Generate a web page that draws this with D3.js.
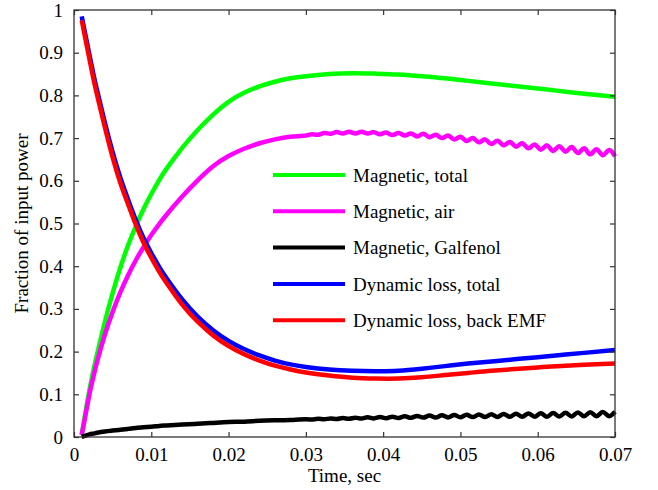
<!DOCTYPE html>
<html><head><meta charset="utf-8">
<script src="https://cdn.jsdelivr.net/npm/d3@7"></script>
<style>body{margin:0;background:#fff}svg{display:block}text{font-family:"Liberation Serif","Times New Roman","DejaVu Serif",serif !important;fill:#000}</style>
</head><body><svg id="c" width="658" height="490"></svg>
<script>
// time in ms
const tEarly = [1.0,1.5,2.0,2.5,3.0,4.0,5.0,6.0,7.0,8.0,9.0,10.0,11.0,12.0,14.0,16.0,18.0,20.0,22.0,24.0,26.0,28.0];
const tLate = [30,33,36,39,42,45,48,51,54,57,60,63,66,70];
const tOsc = [30.0,30.8,31.6,32.4,33.2,34.0,34.8,35.6,36.4,37.2,38.0,38.8,39.6,40.4,41.2,42.0,42.8,43.6,44.4,45.2,46.0,46.8,47.6,48.4,49.2,50.0,50.8,51.6,52.4,53.2,54.0,54.8,55.6,56.4,57.2,58.0,58.8,59.6,60.4,61.2,62.0,62.8,63.6,64.4,65.2,66.0,66.8,67.6,68.4,69.2,70.0];

const magTotalEarly = [0.005,0.06,0.11,0.155,0.195,0.27,0.337,0.397,0.449,0.494,0.534,0.569,0.601,0.629,0.677,0.719,0.755,0.785,0.806,0.821,0.832,0.840];
const magTotalLate = [0.845,0.85,0.852,0.851,0.849,0.845,0.840,0.834,0.828,0.822,0.816,0.81,0.804,0.797];

const magAirEarly = [0.005,0.052,0.1,0.14,0.177,0.24,0.293,0.339,0.379,0.414,0.445,0.473,0.498,0.521,0.563,0.601,0.634,0.658,0.675,0.688,0.697,0.703];
const magAirOsc = [0.706,0.709,0.708,0.712,0.710,0.714,0.711,0.715,0.711,0.715,0.711,0.714,0.709,0.713,0.707,0.712,0.706,0.711,0.704,0.710,0.702,0.708,0.700,0.706,0.697,0.703,0.693,0.700,0.690,0.697,0.686,0.694,0.683,0.691,0.680,0.688,0.676,0.685,0.673,0.683,0.670,0.681,0.668,0.679,0.665,0.676,0.662,0.674,0.660,0.672,0.657];

const magGalEarly = [0.0,0.003,0.006,0.008,0.01,0.013,0.015,0.017,0.019,0.021,0.023,0.024,0.026,0.027,0.029,0.031,0.033,0.035,0.036,0.038,0.039,0.040];
const magGalOsc = [0.0415,0.0408,0.0425,0.0414,0.0435,0.0420,0.0444,0.0426,0.0453,0.0431,0.0461,0.0435,0.0469,0.0441,0.0477,0.0445,0.0485,0.0449,0.0494,0.0454,0.0501,0.0456,0.0508,0.0459,0.0515,0.0462,0.0521,0.0466,0.0527,0.0469,0.0534,0.0471,0.0540,0.0473,0.0545,0.0474,0.0551,0.0475,0.0556,0.0477,0.0561,0.0480,0.0567,0.0482,0.0574,0.0485,0.0580,0.0488,0.0587,0.0490,0.0590];

const dynTotalEarly = [0.985,0.94,0.895,0.851,0.811,0.736,0.667,0.607,0.556,0.508,0.466,0.431,0.399,0.371,0.322,0.282,0.25,0.225,0.206,0.191,0.179,0.17];
const dynTotalLate = [0.164,0.158,0.155,0.154,0.155,0.16,0.166,0.172,0.177,0.182,0.187,0.192,0.197,0.204];

const dynEmfEarly = [0.976,0.93,0.885,0.84,0.80,0.725,0.655,0.595,0.545,0.497,0.455,0.42,0.388,0.36,0.31,0.27,0.238,0.213,0.194,0.179,0.167,0.158];
const dynEmfLate = [0.151,0.144,0.139,0.137,0.137,0.14,0.145,0.15,0.155,0.159,0.163,0.166,0.169,0.172];

const seriesNames = ["Magnetic, total","Magnetic, air","Magnetic, Galfenol","Dynamic loss, total","Dynamic loss, back EMF"];
const seriesColors = ["#00ff00","#ff00ff","#000000","#0000ff","#ff0000"];

const xTickValues = [0,10,20,30,40,50,60,70];
const xTickLabels = ["0","0.01","0.02","0.03","0.04","0.05","0.06","0.07"];
const yTickValues = [0,0.1,0.2,0.3,0.4,0.5,0.6,0.7,0.8,0.9,1];
const yTickLabels = ["0","0.1","0.2","0.3","0.4","0.5","0.6","0.7","0.8","0.9","1"];

const zip = (a,b) => a.map((v,i)=>[v,b[i]]);
const seriesPts = [
  zip(tEarly,magTotalEarly).concat(zip(tLate,magTotalLate)),
  zip(tEarly,magAirEarly).concat(zip(tOsc,magAirOsc)),
  zip(tEarly,magGalEarly).concat(zip(tOsc,magGalOsc)),
  zip(tEarly,dynTotalEarly).concat(zip(tLate,dynTotalLate)),
  zip(tEarly,dynEmfEarly).concat(zip(tLate,dynEmfLate))
];

const svg = d3.select("#c");
const L=74, R=615, T=10, B=437;
const x = d3.scaleLinear().domain([0,70]).range([L,R]);
const y = d3.scaleLinear().domain([0,1]).range([B,T]);
const FONT = "Liberation Serif, Times New Roman, DejaVu Serif, serif";

const line = d3.line().x(d=>x(d[0])).y(d=>y(d[1])).curve(d3.curveNatural);
seriesPts.forEach((pts,i)=>{
  svg.append("path").datum(pts).attr("d",line).attr("fill","none")
    .attr("stroke",seriesColors[i]).attr("stroke-width",4.5).attr("stroke-linejoin","round");
});

const axisColor = "#333";
const fs = 19;
function style(g){
  g.attr("font-family",FONT).attr("font-size",fs);
  g.select(".domain").remove();
  g.selectAll(".tick line").attr("stroke",axisColor).attr("stroke-width",1.2);
  g.selectAll(".tick text").attr("fill","#000");
}
svg.append("g").attr("transform",`translate(0,${B})`)
  .call(d3.axisBottom(x).tickValues(xTickValues).tickSize(-5).tickPadding(11).tickFormat((d,i)=>xTickLabels[i]))
  .call(style);
svg.append("g").attr("transform",`translate(0,${T})`)
  .call(d3.axisTop(x).tickValues(xTickValues).tickSize(-5).tickFormat(""))
  .call(style);
svg.append("g").attr("transform",`translate(${L},0)`)
  .call(d3.axisLeft(y).tickValues(yTickValues).tickSize(-5).tickPadding(11).tickFormat((d,i)=>yTickLabels[i]))
  .call(style);
svg.append("g").attr("transform",`translate(${R},0)`)
  .call(d3.axisRight(y).tickValues(yTickValues).tickSize(-5).tickFormat(""))
  .call(style);
svg.append("rect").attr("x",L).attr("y",T).attr("width",R-L).attr("height",B-T)
  .attr("fill","none").attr("stroke",axisColor).attr("stroke-width",1.3);

// axis titles
svg.append("text").attr("x",(L+R)/2).attr("y",482).attr("text-anchor","middle").attr("font-family",FONT).attr("font-size",fs).text("Time, sec");
svg.append("text").attr("transform",`translate(28,${(T+B)/2}) rotate(-90)`).attr("text-anchor","middle").attr("font-family",FONT).attr("font-size",fs).text("Fraction of input power");

// legend
const lg = svg.append("g");
seriesNames.forEach((n,i)=>{
  const yy = 175 + i*36.3;
  lg.append("line").attr("x1",273).attr("x2",345).attr("y1",yy).attr("y2",yy)
    .attr("stroke",seriesColors[i]).attr("stroke-width",4);
  lg.append("text").attr("x",353).attr("y",yy).attr("dy","0.35em").attr("font-family",FONT).attr("font-size",fs).text(n);
});
</script></body></html>
